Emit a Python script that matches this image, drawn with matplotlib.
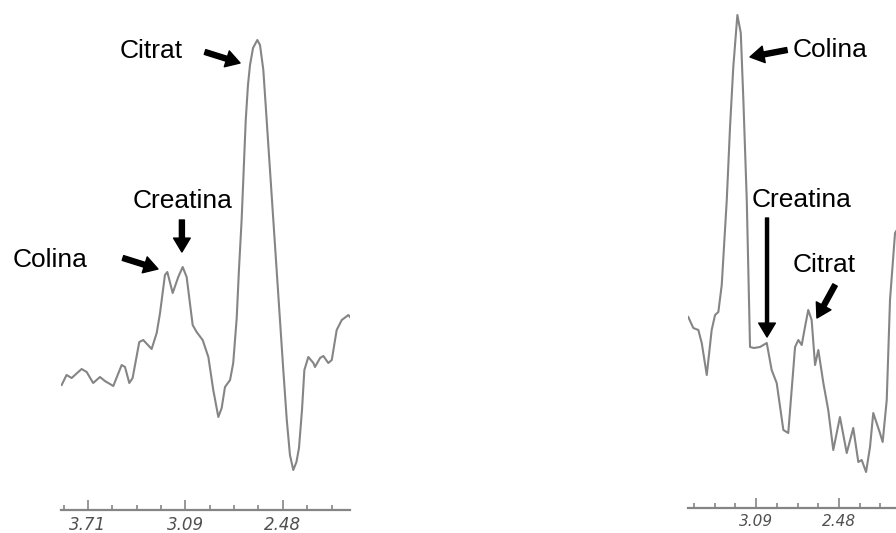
import numpy as np
import matplotlib
matplotlib.use("Agg")
import matplotlib.pyplot as plt

# left spectrum (ppm, intensity a.u.)
left_ppm = [3.876, 3.845, 3.813, 3.750, 3.718, 3.677, 3.634, 3.603, 3.550, 3.497,
            3.476, 3.449, 3.428, 3.386, 3.361, 3.308, 3.276, 3.255, 3.224, 3.209,
            3.175, 3.140, 3.112, 3.087, 3.049, 3.024, 2.986, 2.950, 2.919, 2.887,
            2.866, 2.845, 2.813, 2.793, 2.771, 2.757, 2.740, 2.727, 2.714, 2.700,
            2.687, 2.668, 2.641, 2.624, 2.603, 2.582, 2.561, 2.540, 2.519, 2.498,
            2.477, 2.455, 2.435, 2.414, 2.394, 2.378, 2.359, 2.344, 2.319, 2.287,
            2.277, 2.245, 2.224, 2.193, 2.171, 2.140, 2.108, 2.066, 2.056]
left_int = [12.5, 13.5, 13.2, 14.1, 13.8, 12.7, 13.3, 12.9, 12.4, 14.5,
            14.3, 12.7, 13.2, 16.8, 17.0, 16.1, 17.7, 19.7, 23.5, 23.8,
            21.7, 23.3, 24.3, 23.3, 18.5, 17.8, 17.0, 15.3, 12.0, 9.3,
            10.2, 12.3, 13.0, 14.7, 19.2, 24.0, 29.0, 34.0, 39.0, 42.5,
            44.5, 46.2, 47.0, 46.5, 44.0, 39.0, 34.0, 29.0, 24.0, 19.0,
            14.0, 9.0, 5.5, 4.0, 4.8, 6.2, 10.0, 14.0, 15.3, 14.7,
            14.3, 15.2, 15.4, 14.7, 15.0, 18.0, 19.0, 19.5, 19.3]

# right spectrum
right_ppm = [3.588, 3.551, 3.514, 3.489, 3.452, 3.416, 3.391, 3.367, 3.342, 3.305,
             3.281, 3.257, 3.227, 3.202, 3.183, 3.158, 3.134, 3.105, 3.061, 3.011,
             2.975, 2.938, 2.889, 2.853, 2.803, 2.779, 2.754, 2.730, 2.706, 2.681,
             2.656, 2.632, 2.595, 2.559, 2.522, 2.473, 2.423, 2.375, 2.338, 2.313,
             2.281, 2.252, 2.228, 2.179, 2.159, 2.129, 2.105, 2.068, 2.032]
right_int = [19.1, 18.0, 17.8, 16.5, 13.3, 17.8, 19.3, 19.6, 22.3, 30.8,
             38.1, 44.1, 49.3, 47.5, 40.8, 30.8, 16.1, 16.0, 16.1, 16.5,
             13.8, 12.5, 7.8, 7.5, 16.1, 16.8, 16.3, 18.1, 19.8, 18.8,
             14.3, 15.8, 12.5, 9.8, 5.8, 9.1, 5.5, 8.0, 4.6, 4.8,
             3.6, 6.1, 9.5, 7.5, 6.6, 10.8, 20.8, 27.5, 28.3]

left_labels = ["3.71", "3.09", "2.48"]
right_labels = ["3.09", "2.48"]

W, H = 896, 533
fig = plt.figure(figsize=(W / 100, H / 100), dpi=100)
fig.patch.set_facecolor("white")

grey = "#858585"


def setup(ax, ticks, majors, labels, fs):
    for s in ["top", "left", "right"]:
        ax.spines[s].set_visible(False)
    ax.spines["bottom"].set_color(grey)
    ax.spines["bottom"].set_linewidth(1.6)
    ax.set_yticks([])
    ax.set_xticks(majors)
    ax.set_xticklabels(labels, fontsize=fs, style="italic", color="#505050")
    ax.set_xticks(ticks, minor=True)
    ax.tick_params(axis="x", which="major", direction="in", length=7,
                   width=1.2, color=grey, pad=4)
    ax.tick_params(axis="x", which="minor", direction="in", length=3.5,
                   width=1.2, color=grey)
    ax.patch.set_alpha(0)


# left panel
axL = fig.add_axes([61 / W, 23 / H, 289 / W, 510 / H])
axL.plot(left_ppm, left_int, color=grey, lw=1.5)
axL.set_xlim(3.880, 2.056)
axL.set_ylim(0, 51)
ticksL = [3.71 - 0.15375 * k for k in range(-1, 11)]
setup(axL, ticksL, [3.71, 3.095, 2.48], left_labels, 12)

# right panel (runs off the right edge)
axR = fig.add_axes([688 / W, 25 / H, 222 / W, 508 / H])
axR.plot(right_ppm, right_int, color=grey, lw=1.5)
axR.set_xlim(3.590, 1.958)
axR.set_ylim(0, 50.8)
ticksR = [3.09 - 0.1525 * k for k in range(-3, 8)]
setup(axR, ticksR, [3.09, 2.48], right_labels, 11)

tfont = dict(fontsize=19, family="Liberation Sans", color="black",
             ha="left", va="baseline")


def arrow(ax, tail, tip, tw=0.18):
    ax.annotate("", xy=tip, xytext=tail, annotation_clip=False,
                arrowprops=dict(arrowstyle="simple,head_length=0.5,head_width=0.6,tail_width=%g" % tw,
                                color="black", mutation_scale=20,
                                shrinkA=0, shrinkB=0))


axL.text(3.508, 45.2, "Citrat", **tfont)
arrow(axL, (2.971, 45.8), (2.750, 44.7))
axL.text(3.426, 30.2, "Creatina", **tfont)
arrow(axL, (3.117, 29.0), (3.117, 25.8))
axL.text(4.185, 24.3, "Colina", **tfont)
arrow(axL, (3.489, 25.2), (3.268, 24.1))

axR.text(2.818, 45.1, "Colina", **tfont)
arrow(axR, (2.862, 45.8), (3.134, 45.1))
axR.text(3.119, 30.1, "Creatina", **tfont)
arrow(axR, (3.009, 29.0), (3.009, 17.1), tw=0.11)
axR.text(2.818, 23.6, "Citrat", **tfont)
arrow(axR, (2.509, 22.3), (2.642, 19.0))

fig.savefig("out.png", dpi=100)
